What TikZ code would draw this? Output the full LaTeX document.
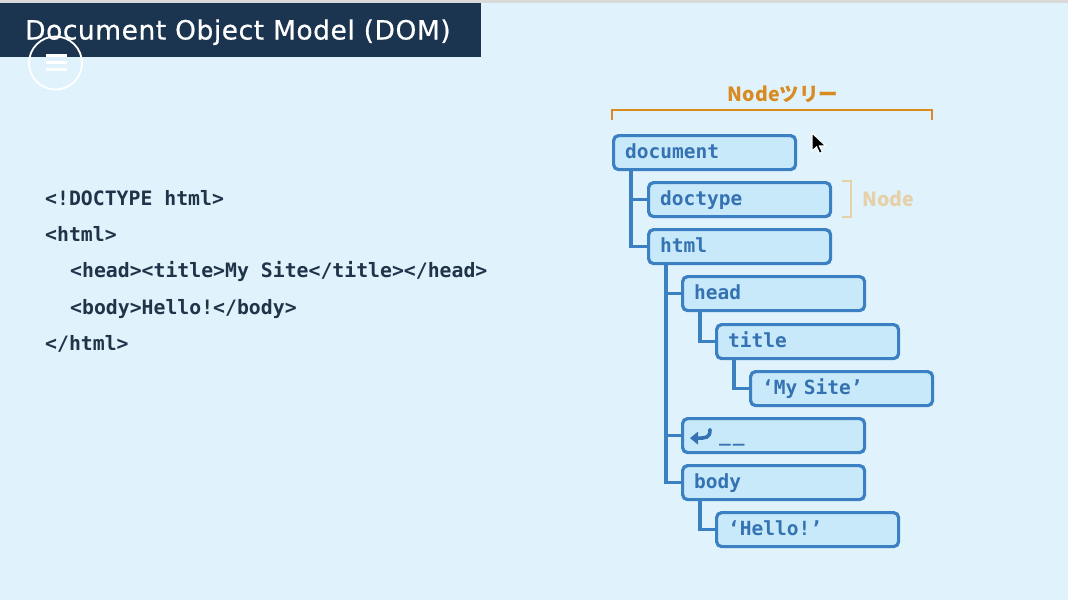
\documentclass[tikz,border=0pt]{standalone}
\usepackage{fontspec}
\setmainfont{Noto Sans}
\setmonofont{DejaVu Sans Mono}
\newfontfamily\jpfont{Noto Sans CJK JP}
\newfontfamily\titlefont{DejaVu Sans}[LetterSpace=2,FakeBold=0.6]
\usetikzlibrary{positioning}
\definecolor{PageBlue}{RGB}{224,243,253}
\definecolor{BarNavy}{RGB}{27,53,80}
\definecolor{CodeNavy}{RGB}{31,52,72}
\definecolor{TreeBlue}{RGB}{58,128,194}
\definecolor{TreeText}{RGB}{52,114,178}
\definecolor{TreeFill}{RGB}{200,233,250}
\definecolor{BracketOrange}{RGB}{217,138,32}
\definecolor{FadedTan}{RGB}{230,208,168}
\tikzset{
  treebox/.style={draw=TreeBlue,line width=3.2pt,rounded corners=5pt,fill=TreeFill,
    anchor=north west,inner xsep=11.5pt,text width=159pt,minimum height=34pt,
    align=left,text=TreeText,font=\ttfamily\bfseries\fontsize{19.5}{20}\selectfont,
    text height=15pt,text depth=3pt},
  treeline/.style={draw=TreeBlue,line width=3.2pt},
  codeline/.style={anchor=base west,inner sep=0pt,text=CodeNavy,
    font=\ttfamily\bfseries\fontsize{19.8}{20}\selectfont},
}

\begin{document}
\begin{tikzpicture}[x=1pt,y=-1pt]
  \useasboundingbox (0,0) rectangle (1068,600);
  \fill[PageBlue] (0,0) rectangle (1068,600);
  \fill[gray!30] (0,0) rectangle (1068,2.5);
  \fill[BarNavy] (0,2.5) rectangle (481,57);
  \node[anchor=base west,inner sep=0pt,text=white,font=\titlefont\fontsize{26.5}{28}\selectfont] (pagetitle) at (25,39.5) {Document Object Model (DOM)};
  % menu button
  \draw[white,line width=1.8pt] (55.5,63) circle[radius=26.5pt];
  \draw[white,line width=3pt] (46,55) -- (66.5,55) (46,62.5) -- (66.5,62.5) (46,69.7) -- (66.5,69.7);

  % source
  \node[codeline] (l1) at (45,205.5) {<!DOCTYPE html>};
  \node[codeline] (l2) at (45,241.7) {<html>};
  \node[codeline] (l3) at (70,277.9) {<head><title>My Site</title></head>};
  \node[codeline] (l4) at (70,314.1) {<body>Hello!</body>};
  \node[codeline] (l5) at (45,350.3) {</html>};

  % tree
  \node[text=BracketOrange,font=\jpfont\bfseries\fontsize{19.5}{20}\selectfont] (treelabel) at (783,94) {Nodeツリー};
  \draw[BracketOrange,line width=2.5pt] (612,120) -- (612,110) -- (932,110) -- (932,120);

  \node[treebox] (doc) at (612,134) {document};
  \node[treebox] (doctype) at (647,181) {doctype};
  \node[treebox] (html) at (647,228) {html};
  \node[treebox] (head) at (681,275) {head};
  \node[treebox] (ttl) at (715,323) {title};
  \node[treebox] (mysite) at (749,370) {‘My Site’};
  \node[treebox] (ret) at (681,417) {\hspace*{25pt}\_\kern2pt\_};
  \node[treebox] (body) at (681,464) {body};
  \node[treebox] (hello) at (715,511) {‘Hello!’};

  \draw[treeline] ([xshift=19pt]doc.south west) |- (doctype.west);
  \draw[treeline] ([xshift=19pt]doc.south west) |- (html.west);
  \draw[treeline] ([xshift=19pt]html.south west) |- (head.west);
  \draw[treeline] ([xshift=19pt]html.south west) |- (ret.west);
  \draw[treeline] ([xshift=19pt]html.south west) |- (body.west);
  \draw[treeline] ([xshift=19pt]head.south west) |- (ttl.west);
  \draw[treeline] ([xshift=19pt]ttl.south west) |- (mysite.west);
  \draw[treeline] ([xshift=19pt]body.south west) |- (hello.west);

  % return mark
  \begin{scope}[shift={(ret.west)},TreeText]
    \draw[line width=3.6pt,line cap=round] (29,-6) .. controls (29,2.5) and (25,2.5) .. (16,2.5);
    \fill (9,2.5) -- (17,-4) -- (17,9) -- cycle;
  \end{scope}

  \draw[FadedTan,line width=2.5pt] (842,181) -- (851,181) -- (851,217) -- (842,217);
  \node[anchor=west,inner sep=0pt,text=FadedTan,font=\jpfont\bfseries\fontsize{19.5}{20}\selectfont] (nodelabel) at (862,199) {Node};

  % pointer
  \filldraw[fill=black,draw=white,line width=1pt] (812,133) -- ++(0,18) -- ++(4.5,-4.2) -- ++(3,6.5) -- ++(2.8,-1.2) -- ++(-3,-6.3) -- ++(6.2,0) -- cycle;
\end{tikzpicture}
\end{document}
